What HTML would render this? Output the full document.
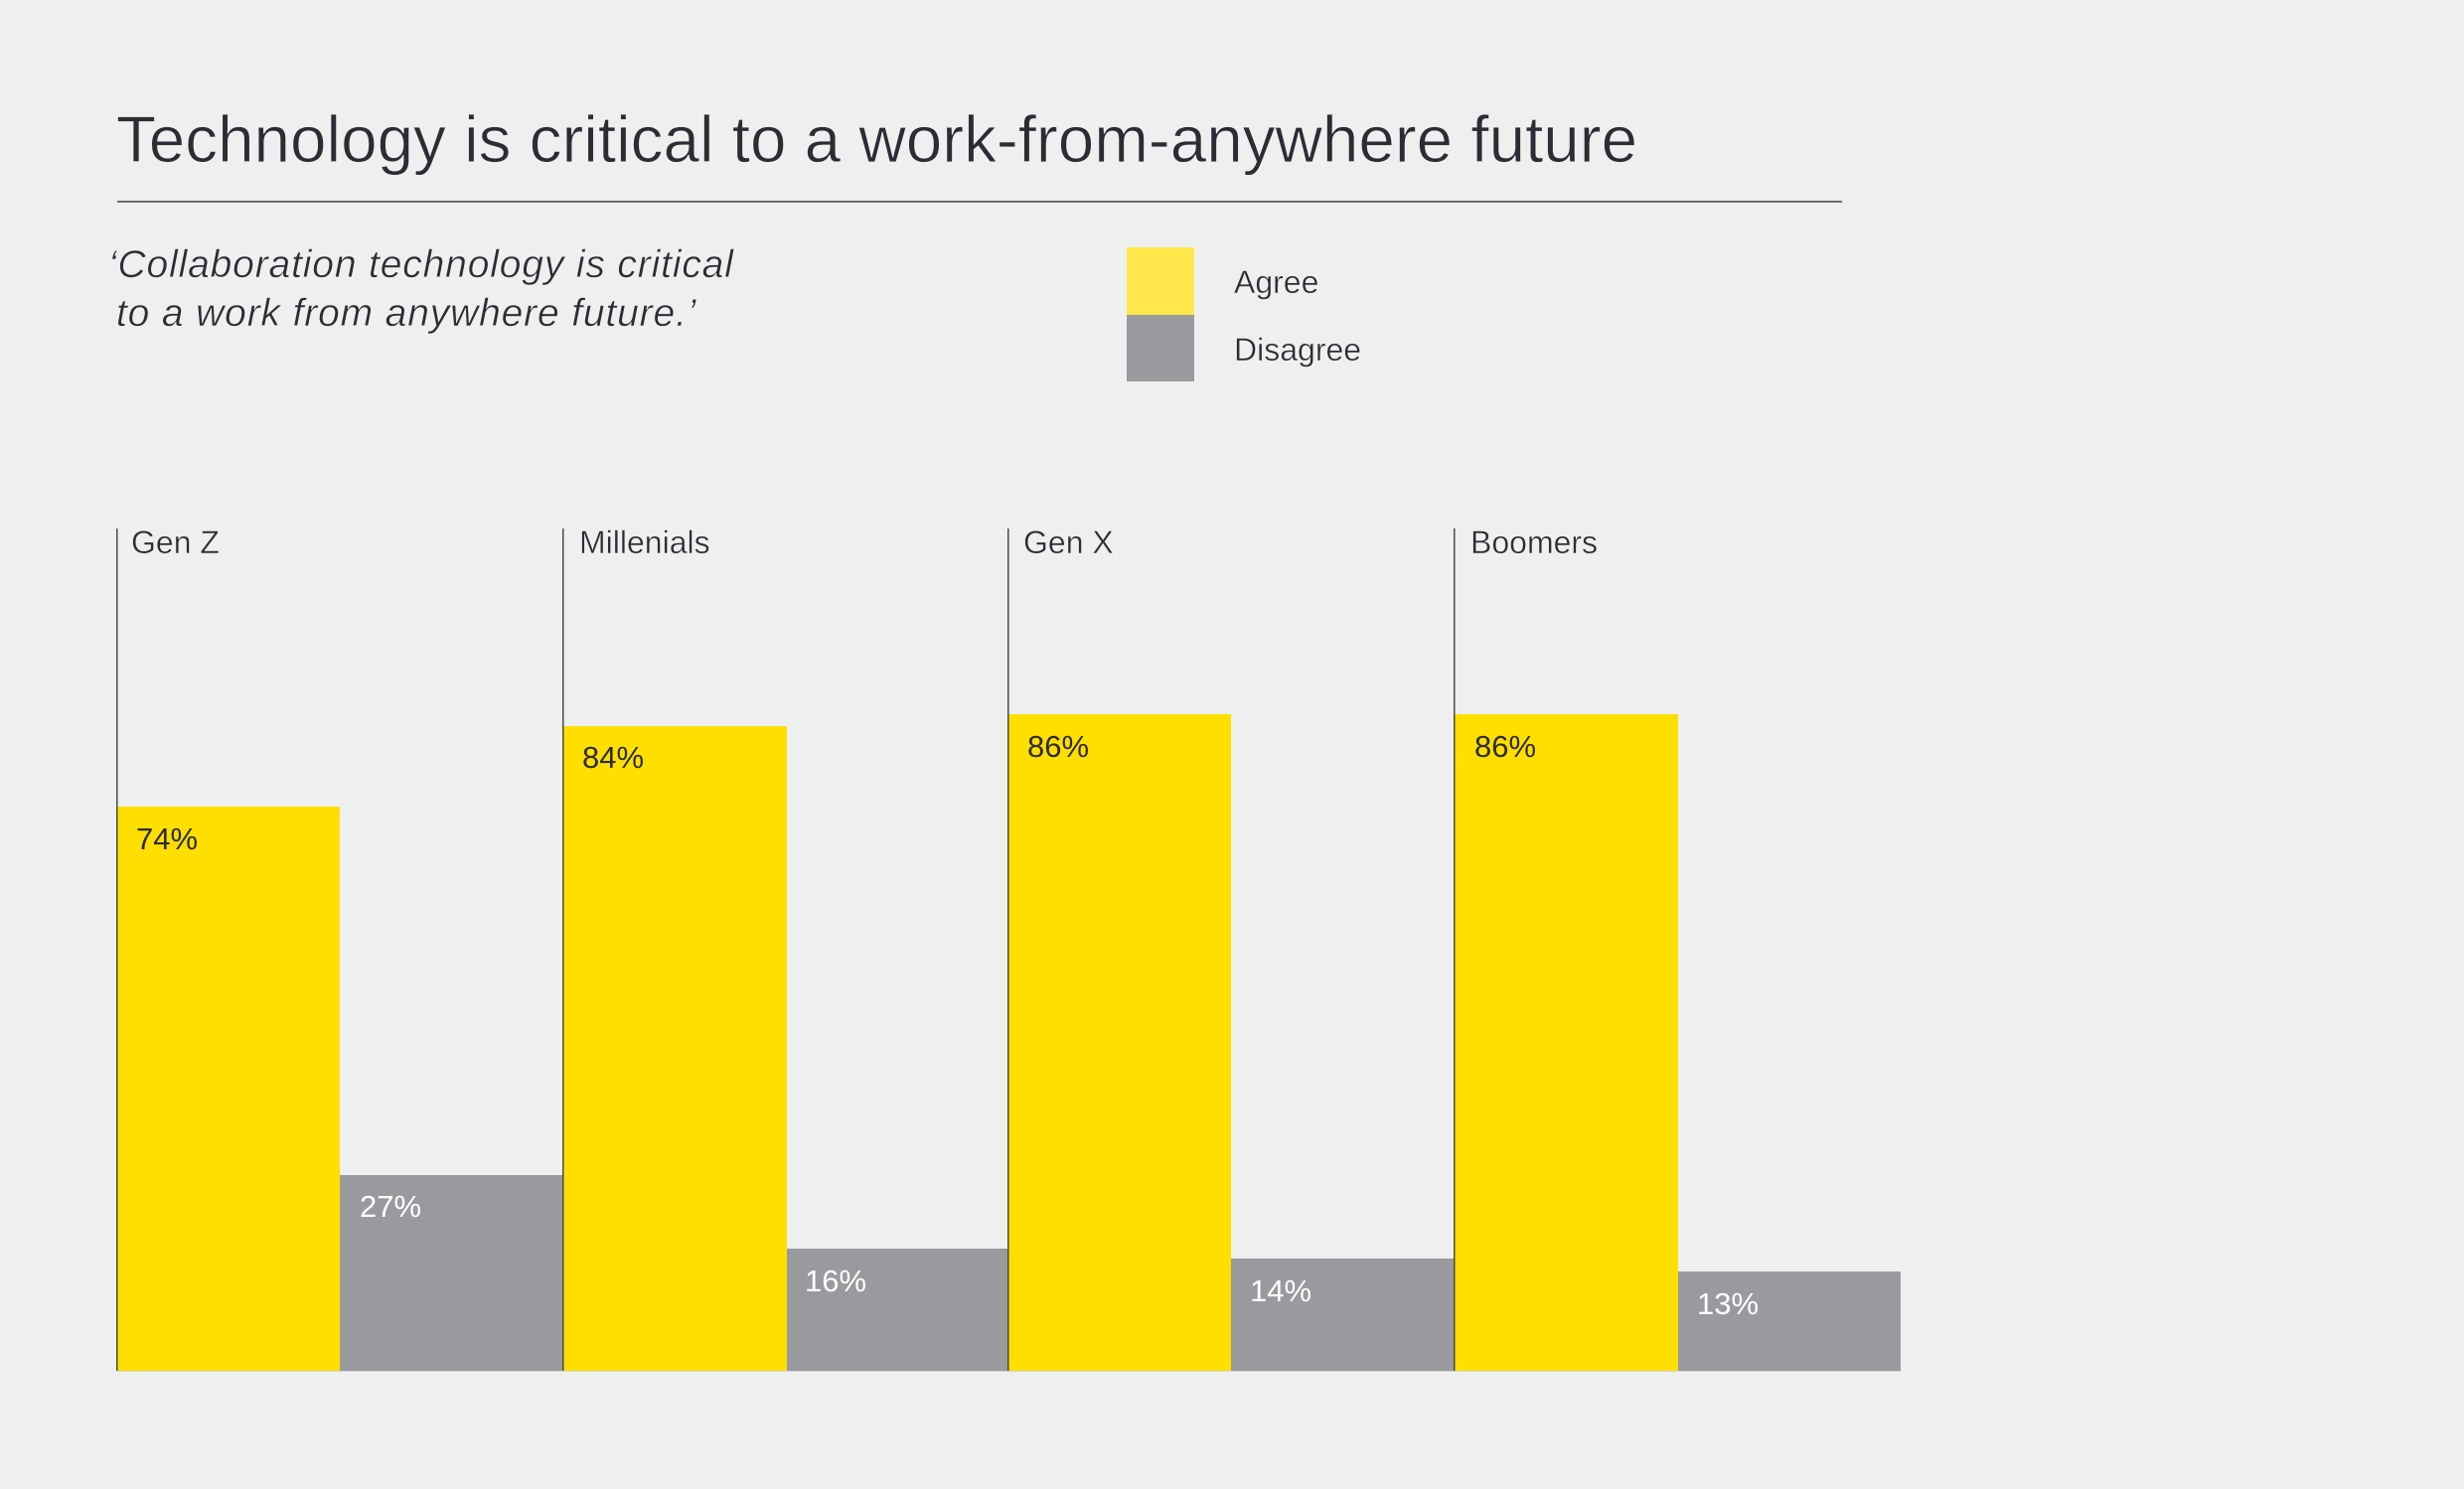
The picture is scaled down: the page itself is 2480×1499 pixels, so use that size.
<!DOCTYPE html>
<html>
<head>
<meta charset="utf-8">
<style>
  html, body { margin: 0; padding: 0; background: #EEF0EF; }
  svg { display: block; }
  text { font-family: "Liberation Sans", sans-serif; }
</style>
</head>
<body>
<svg width="2480" height="1499" viewBox="0 0 2480 1499" xmlns="http://www.w3.org/2000/svg">
  <rect x="0" y="0" width="2480" height="1499" fill="#EEF0EF"/>

  <!-- Title -->
  <text x="117" y="163" font-size="65.6" fill="#2c2c34" stroke="#EEF0EF" stroke-width="0.8">Technology is critical to a work-from-anywhere future</text>
  <rect x="118" y="202" width="1736" height="2" fill="#6a6a6e"/>

  <!-- Quote -->
  <text x="109" y="279" font-size="39" font-style="italic" letter-spacing="0.85" fill="#2c2c34" stroke="#EEF0EF" stroke-width="0.5">‘Collaboration technology is critical</text>
  <text x="117" y="328" font-size="39" font-style="italic" letter-spacing="0.85" fill="#2c2c34" stroke="#EEF0EF" stroke-width="0.5">to a work from anywhere future.’</text>

  <!-- Legend -->
  <rect x="1134" y="249" width="68" height="68" fill="#FFE74C"/>
  <rect x="1134" y="317" width="68" height="67" fill="#999A9E"/>
  <text x="1242" y="295" font-size="32" fill="#2c2c34" stroke="#EEF0EF" stroke-width="0.4">Agree</text>
  <text x="1242" y="363" font-size="32" fill="#2c2c34" stroke="#EEF0EF" stroke-width="0.4">Disagree</text>

  <!-- Bars -->
  <g>
    <rect x="118" y="812" width="224" height="568" fill="#FFDF00"/>
    <rect x="342" y="1183" width="225" height="197" fill="#999A9E"/>

    <rect x="567" y="731" width="225" height="649" fill="#FFDF00"/>
    <rect x="792" y="1257" width="223" height="123" fill="#999A9E"/>

    <rect x="1015" y="719" width="224" height="661" fill="#FFDF00"/>
    <rect x="1239" y="1267" width="225" height="113" fill="#999A9E"/>

    <rect x="1464" y="719" width="225" height="661" fill="#FFDF00"/>
    <rect x="1689" y="1280" width="224" height="100" fill="#999A9E"/>
  </g>

  <!-- baseline faint -->
  <rect x="118" y="1380" width="1795" height="1" fill="#d4d5d6"/>

  <!-- Axis lines -->
  <rect x="117" y="532" width="1.5" height="848" fill="#4a4a50"/>
  <rect x="566" y="532" width="1.5" height="848" fill="#4a4a50"/>
  <rect x="1014" y="532" width="1.5" height="848" fill="#4a4a50"/>
  <rect x="1463" y="532" width="1.5" height="848" fill="#4a4a50"/>

  <!-- Category labels -->
  <text x="132" y="557" font-size="32" fill="#2c2c34" stroke="#EEF0EF" stroke-width="0.4">Gen Z</text>
  <text x="583" y="557" font-size="32" fill="#2c2c34" stroke="#EEF0EF" stroke-width="0.4">Millenials</text>
  <text x="1030" y="557" font-size="32" fill="#2c2c34" stroke="#EEF0EF" stroke-width="0.4">Gen X</text>
  <text x="1480" y="557" font-size="32" fill="#2c2c34" stroke="#EEF0EF" stroke-width="0.4">Boomers</text>

  <!-- Value labels -->
  <text x="137" y="855" font-size="31" fill="#2c2c34">74%</text>
  <text x="362" y="1225" font-size="31" fill="#ffffff">27%</text>

  <text x="586" y="773" font-size="31" fill="#2c2c34">84%</text>
  <text x="810" y="1300" font-size="31" fill="#ffffff">16%</text>

  <text x="1034" y="762" font-size="31" fill="#2c2c34">86%</text>
  <text x="1258" y="1310" font-size="31" fill="#ffffff">14%</text>

  <text x="1484" y="762" font-size="31" fill="#2c2c34">86%</text>
  <text x="1708" y="1323" font-size="31" fill="#ffffff">13%</text>
</svg>
</body>
</html>
